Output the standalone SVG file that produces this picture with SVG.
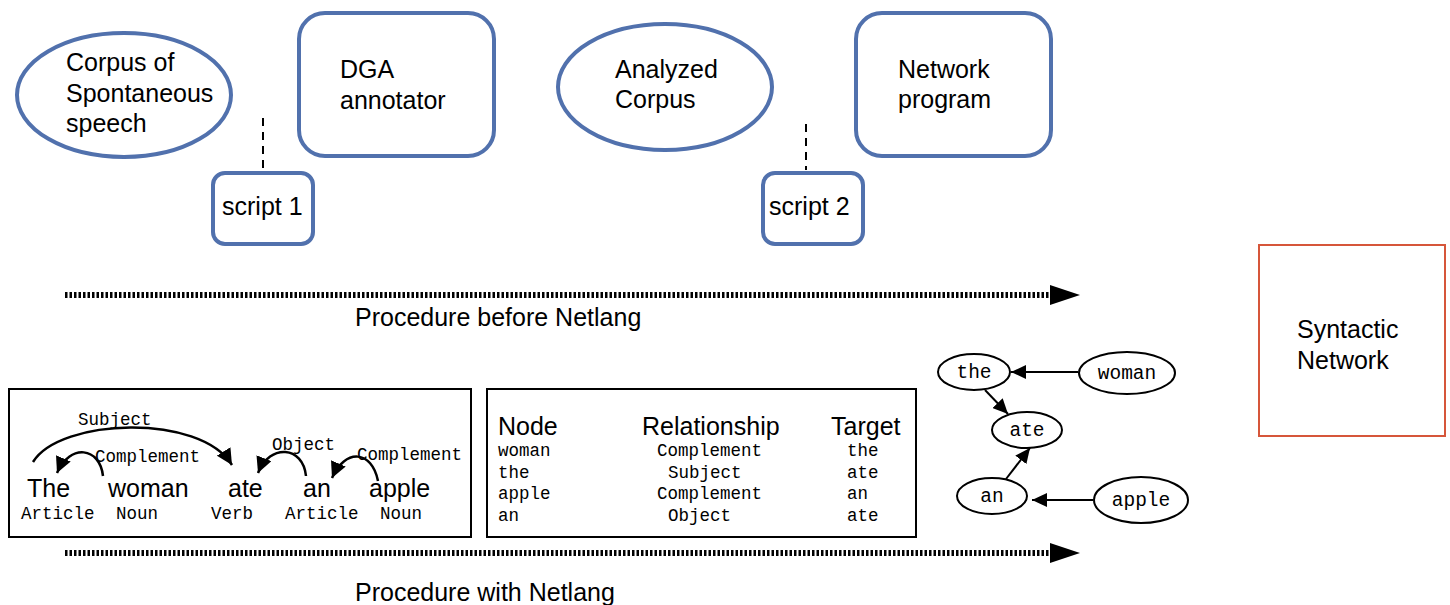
<svg xmlns="http://www.w3.org/2000/svg" width="1450" height="605" viewBox="0 0 1450 605">
<defs>
<style>
.blue{fill:#fff;stroke:#5171ad;stroke-width:4}
.sans{font-family:"Liberation Sans",Arial,sans-serif;font-size:25px;fill:#000}
.mono{font-family:"Liberation Mono","Courier New",monospace;font-size:17.5px;fill:#000}
.gm{font-family:"Liberation Mono","Courier New",monospace;font-size:19.5px;fill:#000}
.box{fill:#fff;stroke:#000;stroke-width:2}
.gnode{fill:#fff;stroke:#000;stroke-width:2}
.dash{stroke:#000;stroke-width:2;stroke-dasharray:8 6;fill:none}
.dots{stroke:#000;stroke-width:6;stroke-dasharray:2.5 2;fill:none}
.arc{stroke:#000;stroke-width:2.5;fill:none;marker-end:url(#ah)}
.edge{stroke:#000;stroke-width:2;fill:none;marker-end:url(#ge)}
</style>
<marker id="ah" markerUnits="userSpaceOnUse" markerWidth="18" markerHeight="16" refX="16" refY="8" orient="auto">
<path d="M0,0 L16,8 L0,16 Z" fill="#000"/>
</marker>
<marker id="ge" markerUnits="userSpaceOnUse" markerWidth="16" markerHeight="14" refX="15" refY="7" orient="auto">
<path d="M0,0 L15,7 L0,14 Z" fill="#000"/>
</marker>
</defs>
<rect width="1450" height="605" fill="#fff"/>

<g id="connectors">
<line class="dash" x1="263" y1="118" x2="263" y2="170"/>
<line class="dash" x1="806" y1="124" x2="806" y2="170"/>
<line class="dots" x1="65" y1="295" x2="1052" y2="295"/>
<polygon points="1050,285 1080,295 1050,305" fill="#000"/>
<line class="dots" x1="65" y1="553" x2="1052" y2="553"/>
<polygon points="1050,543 1080,553 1050,563" fill="#000"/>
<line class="edge" x1="1078" y1="372" x2="1011" y2="372"/>
<line class="edge" x1="985" y1="390" x2="1008" y2="414"/>
<line class="edge" x1="1006" y1="479" x2="1030" y2="448"/>
<line class="edge" x1="1093" y1="500" x2="1032" y2="500"/>
</g>

<g id="corpus">
<ellipse class="blue" cx="124" cy="95" rx="107" ry="62"/>
<text class="sans" x="66" y="71">Corpus of</text>
<text class="sans" x="66" y="102">Spontaneous</text>
<text class="sans" x="66" y="132">speech</text>
</g>
<g id="dga">
<rect class="blue" x="299" y="13" width="195" height="143" rx="26"/>
<text class="sans" x="340" y="78">DGA</text>
<text class="sans" x="340" y="109">annotator</text>
</g>
<g id="script1">
<rect class="blue" x="213" y="173" width="100" height="71" rx="12"/>
<text class="sans" x="222" y="215">script 1</text>
</g>
<g id="analyzed">
<ellipse class="blue" cx="665" cy="87" rx="107" ry="63"/>
<text class="sans" x="615" y="78">Analyzed</text>
<text class="sans" x="615" y="108">Corpus</text>
</g>
<g id="network-program">
<rect class="blue" x="856" y="13" width="195" height="143" rx="26"/>
<text class="sans" x="898" y="78">Network</text>
<text class="sans" x="898" y="108">program</text>
</g>
<g id="script2">
<rect class="blue" x="763" y="173" width="100" height="71" rx="12"/>
<text class="sans" x="769" y="215">script 2</text>
</g>

<g id="label-before">
<text class="sans" x="355" y="326">Procedure before Netlang</text>
</g>
<g id="label-with">
<text class="sans" x="355" y="601">Procedure with Netlang</text>
</g>

<g id="syntactic-network">
<rect x="1259" y="245" width="186" height="191" fill="#fff" stroke="#d6563a" stroke-width="2"/>
<text class="sans" x="1297" y="338">Syntactic</text>
<text class="sans" x="1297" y="369">Network</text>
</g>

<g id="dependency-box">
<rect class="box" x="9" y="389" width="462" height="148"/>
<path class="arc" d="M33,462 C60,418 200,413 232,465"/>
<path class="arc" d="M103,476 C100,447 70,443 57,473"/>
<path class="arc" d="M306,476 C303,446 270,443 258,473"/>
<path class="arc" d="M378,481 C372,450 345,448 332,478"/>
<text class="mono" x="78" y="425">Subject</text>
<text class="mono" x="95" y="462">Complement</text>
<text class="mono" x="272" y="450">Object</text>
<text class="mono" x="357" y="460">Complement</text>
<text class="sans" x="27" y="497">The</text>
<text class="sans" x="108" y="497">woman</text>
<text class="sans" x="228" y="497">ate</text>
<text class="sans" x="303" y="497">an</text>
<text class="sans" x="369" y="497">apple</text>
<text class="mono" x="21" y="519">Article</text>
<text class="mono" x="116" y="519">Noun</text>
<text class="mono" x="211" y="519">Verb</text>
<text class="mono" x="285" y="519">Article</text>
<text class="mono" x="380" y="519">Noun</text>
</g>

<g id="table-box">
<rect class="box" x="487" y="389" width="429" height="148"/>
<text class="sans" x="498" y="435">Node</text>
<text class="sans" x="642" y="435">Relationship</text>
<text class="sans" x="831" y="435">Target</text>
<text class="mono" x="498" y="456">woman</text>
<text class="mono" x="657" y="456">Complement</text>
<text class="mono" x="847" y="456">the</text>
<text class="mono" x="498" y="478">the</text>
<text class="mono" x="668" y="478">Subject</text>
<text class="mono" x="847" y="478">ate</text>
<text class="mono" x="498" y="499">apple</text>
<text class="mono" x="657" y="499">Complement</text>
<text class="mono" x="847" y="499">an</text>
<text class="mono" x="498" y="521">an</text>
<text class="mono" x="668" y="521">Object</text>
<text class="mono" x="847" y="521">ate</text>
</g>

<g id="node-the">
<ellipse class="gnode" cx="974" cy="372" rx="36" ry="18"/>
<text class="gm" x="974" y="378" text-anchor="middle">the</text>
</g>
<g id="node-woman">
<ellipse class="gnode" cx="1127" cy="373" rx="48" ry="21"/>
<text class="gm" x="1127" y="379" text-anchor="middle">woman</text>
</g>
<g id="node-ate">
<ellipse class="gnode" cx="1027" cy="430" rx="35" ry="18"/>
<text class="gm" x="1027" y="436" text-anchor="middle">ate</text>
</g>
<g id="node-an">
<ellipse class="gnode" cx="992" cy="496" rx="35" ry="18"/>
<text class="gm" x="992" y="502" text-anchor="middle">an</text>
</g>
<g id="node-apple">
<ellipse class="gnode" cx="1141" cy="500" rx="47" ry="23"/>
<text class="gm" x="1141" y="506" text-anchor="middle">apple</text>
</g>
</svg>
